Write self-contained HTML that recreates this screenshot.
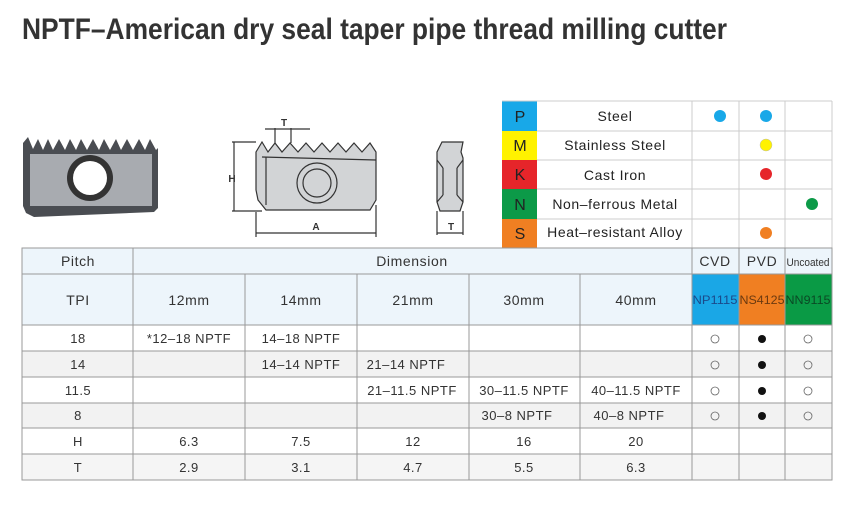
<!DOCTYPE html>
<html><head><meta charset="utf-8"><style>
html,body{margin:0;padding:0;background:#fff;}
svg{display:block;font-family:"Liberation Sans",sans-serif;}
</style></head><body>
<svg width="841" height="516" viewBox="0 0 841 516" xmlns="http://www.w3.org/2000/svg">
<rect width="841" height="516" fill="#fff"/>
<text x="22" y="39" font-size="30" font-weight="bold" fill="#333" textLength="705" lengthAdjust="spacingAndGlyphs">NPTF–American dry seal taper pipe thread milling cutter</text>

<!-- left insert photo -->
<polygon points="23,143 28,137 33,149 38,139 43,150 48,139 53,150 59,139 65,150 70,139 76,150 81,139 87,150 93,139 99,150 104,139 110,150 116,139 121,150 127,139 133,150 139,139 145,150 150,139 156,150 158,148 158,208 154,212 34,217 26,213 23,206" fill="#4a4d52"/>
<rect x="30" y="154" width="122" height="52" fill="#a8abb0"/>
<circle cx="90" cy="178" r="23" fill="#333"/>
<circle cx="90" cy="178" r="17" fill="#fff"/>

<!-- technical drawing -->
<g stroke="#333" stroke-width="1.2" fill="none">
<polygon points="256,152 262,142 268,152 275,143 282,152 290,143 298,152 306,143 314,152 322,143 330,152 338,143 346,152 354,143 362,152 370,143 376,152 376,200 370,210 266,210 258,200 256,190" fill="#d2d4d6"/>
<line x1="262" y1="157" x2="376" y2="160"/>
<line x1="266" y1="157" x2="266" y2="205"/>
<circle cx="317" cy="183" r="20"/>
<circle cx="317" cy="183" r="14"/>
<line x1="232" y1="142" x2="256" y2="142"/><line x1="232" y1="211" x2="262" y2="211"/>
<line x1="234" y1="142" x2="234" y2="211"/>
<line x1="256" y1="212" x2="256" y2="237"/><line x1="376" y1="205" x2="376" y2="237"/>
<line x1="256" y1="233" x2="376" y2="233"/>
<line x1="275" y1="128" x2="275" y2="143"/><line x1="291" y1="128" x2="291" y2="143"/>
<line x1="265" y1="129" x2="310" y2="129"/>
<polygon points="437,152 442,142 463,142 461,152 463,158 463,202 460,211 440,211 437,202" fill="#d2d4d6"/>
<line x1="443" y1="168" x2="443" y2="195"/><line x1="457" y1="168" x2="457" y2="195"/>
<line x1="437" y1="160" x2="443" y2="168"/><line x1="463" y1="160" x2="457" y2="168"/>
<line x1="437" y1="202" x2="443" y2="195"/><line x1="463" y1="202" x2="457" y2="195"/>
<line x1="437" y1="211" x2="437" y2="235"/><line x1="463" y1="211" x2="463" y2="235"/>
<line x1="437" y1="233" x2="463" y2="233"/>
</g>
<g font-size="10" font-weight="bold" fill="#333" text-anchor="middle">
<text x="284" y="126">T</text><text x="232" y="182">H</text><text x="316" y="230">A</text><text x="451" y="230">T</text>
</g>

<!-- material table -->
<g>
<rect x="502" y="101" width="35" height="30" fill="#18a8e8"/>
<rect x="502" y="131" width="35" height="29" fill="#fff200"/>
<rect x="502" y="160" width="35" height="29" fill="#e6252a"/>
<rect x="502" y="189" width="35" height="30" fill="#0c9a48"/>
<rect x="502" y="219" width="35" height="29" fill="#f07f22"/>
</g>
<g stroke="#ccc" stroke-width="1" fill="none">
<line x1="502" y1="101" x2="832" y2="101"/>
<line x1="537" y1="131" x2="832" y2="131"/><line x1="537" y1="160" x2="832" y2="160"/>
<line x1="537" y1="189" x2="832" y2="189"/><line x1="537" y1="219" x2="832" y2="219"/>
<line x1="692" y1="101" x2="692" y2="248"/><line x1="739" y1="101" x2="739" y2="248"/>
<line x1="785" y1="101" x2="785" y2="248"/><line x1="832" y1="101" x2="832" y2="248"/>
</g>
<g font-size="16" fill="#222" text-anchor="middle">
<text x="520" y="122">P</text><text x="520" y="151">M</text><text x="520" y="180">K</text><text x="520" y="210">N</text><text x="520" y="239">S</text>
</g>
<g font-size="14" fill="#222" text-anchor="middle" letter-spacing="0.6">
<text x="615" y="121">Steel</text><text x="615" y="150">Stainless Steel</text><text x="615" y="180">Cast Iron</text><text x="615" y="209">Non–ferrous Metal</text><text x="615" y="237">Heat–resistant Alloy</text>
</g>
<circle cx="720" cy="116" r="6" fill="#18a8e8"/>
<circle cx="766" cy="116" r="6" fill="#18a8e8"/>
<circle cx="766" cy="145" r="6" fill="#fff200" stroke="#bbb" stroke-width="0.5"/>
<circle cx="766" cy="174" r="6" fill="#e6252a"/>
<circle cx="812" cy="204" r="6" fill="#0c9a48"/>
<circle cx="766" cy="233" r="6" fill="#f07f22"/>

<!-- main table backgrounds -->
<rect x="22" y="248" width="810" height="77" fill="#edf5fb"/>
<rect x="692" y="274" width="47" height="51" fill="#1aa7e6"/>
<rect x="739" y="274" width="46" height="51" fill="#f07f22"/>
<rect x="785" y="274" width="47" height="51" fill="#0a9a45"/>
<rect x="22" y="351" width="810" height="26" fill="#f2f2f2"/>
<rect x="22" y="403" width="810" height="25" fill="#f2f2f2"/>
<rect x="22" y="454" width="810" height="26" fill="#f5f5f5"/>
<g stroke="#999" stroke-width="1" fill="none">
<rect x="22" y="248" width="810" height="232"/>
<line x1="133" y1="274" x2="692" y2="274"/><line x1="692" y1="274" x2="832" y2="274"/>
<line x1="22" y1="274" x2="133" y2="274"/>
<line x1="22" y1="325" x2="832" y2="325"/><line x1="22" y1="351" x2="832" y2="351"/>
<line x1="22" y1="377" x2="832" y2="377"/><line x1="22" y1="403" x2="832" y2="403"/>
<line x1="22" y1="428" x2="832" y2="428"/><line x1="22" y1="454" x2="832" y2="454"/>
<line x1="133" y1="248" x2="133" y2="480"/>
<line x1="245" y1="274" x2="245" y2="480"/><line x1="357" y1="274" x2="357" y2="480"/>
<line x1="469" y1="274" x2="469" y2="480"/><line x1="580" y1="274" x2="580" y2="480"/>
<line x1="692" y1="248" x2="692" y2="480"/><line x1="739" y1="248" x2="739" y2="480"/>
<line x1="785" y1="248" x2="785" y2="480"/>
</g>
<g font-size="14" fill="#333" text-anchor="middle" letter-spacing="0.6">
<text x="78" y="266">Pitch</text><text x="412" y="266">Dimension</text>
<text x="715" y="266">CVD</text><text x="762" y="266">PVD</text>
<text x="78" y="305">TPI</text><text x="189" y="305">12mm</text><text x="301" y="305">14mm</text>
<text x="413" y="305">21mm</text><text x="524" y="305">30mm</text><text x="636" y="305">40mm</text>
</g>
<text x="808" y="266" font-size="11" fill="#333" text-anchor="middle" textLength="43" lengthAdjust="spacingAndGlyphs">Uncoated</text>
<g font-size="12" text-anchor="middle">
<text x="715" y="304" fill="#1a4a8a" textLength="45" lengthAdjust="spacingAndGlyphs">NP1115</text>
<text x="762" y="304" fill="#6b3a10" textLength="45" lengthAdjust="spacingAndGlyphs">NS4125</text>
<text x="808" y="304" fill="#0a4a25" textLength="45" lengthAdjust="spacingAndGlyphs">NN9115</text>
</g>
<g font-size="13" fill="#333" text-anchor="middle" letter-spacing="0.5">
<text x="78" y="343">18</text><text x="189" y="343">*12–18 NPTF</text><text x="301" y="343">14–18 NPTF</text>
<text x="78" y="369">14</text><text x="301" y="369">14–14 NPTF</text><text x="406" y="369">21–14 NPTF</text>
<text x="78" y="395">11.5</text><text x="412" y="395">21–11.5 NPTF</text><text x="524" y="395">30–11.5 NPTF</text><text x="636" y="395">40–11.5 NPTF</text>
<text x="78" y="420">8</text><text x="517" y="420">30–8 NPTF</text><text x="629" y="420">40–8 NPTF</text>
<text x="78" y="446">H</text><text x="189" y="446">6.3</text><text x="301" y="446">7.5</text><text x="413" y="446">12</text><text x="524" y="446">16</text><text x="636" y="446">20</text>
<text x="78" y="472">T</text><text x="189" y="472">2.9</text><text x="301" y="472">3.1</text><text x="413" y="472">4.7</text><text x="524" y="472">5.5</text><text x="636" y="472">6.3</text>
</g>
<g>
<circle cx="715" cy="339" r="4" fill="none" stroke="#666" stroke-width="0.8"/><circle cx="762" cy="339" r="4" fill="#111"/><circle cx="808" cy="339" r="4" fill="none" stroke="#666" stroke-width="0.8"/>
<circle cx="715" cy="365" r="4" fill="none" stroke="#666" stroke-width="0.8"/><circle cx="762" cy="365" r="4" fill="#111"/><circle cx="808" cy="365" r="4" fill="none" stroke="#666" stroke-width="0.8"/>
<circle cx="715" cy="391" r="4" fill="none" stroke="#666" stroke-width="0.8"/><circle cx="762" cy="391" r="4" fill="#111"/><circle cx="808" cy="391" r="4" fill="none" stroke="#666" stroke-width="0.8"/>
<circle cx="715" cy="416" r="4" fill="none" stroke="#666" stroke-width="0.8"/><circle cx="762" cy="416" r="4" fill="#111"/><circle cx="808" cy="416" r="4" fill="none" stroke="#666" stroke-width="0.8"/>
</g>
</svg>
</body></html>
